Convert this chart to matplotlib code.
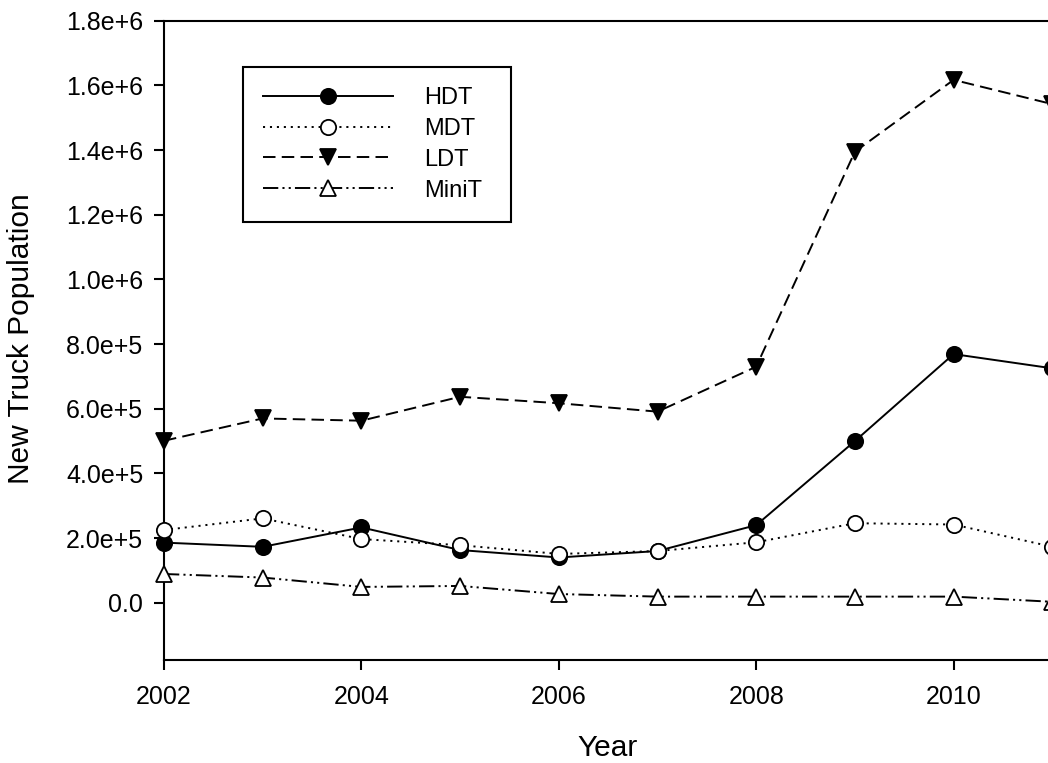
import matplotlib
matplotlib.use('Agg')
import matplotlib.pyplot as plt
from matplotlib.ticker import FuncFormatter, FixedLocator

plt.rcParams['font.family'] = ['Liberation Sans', 'DejaVu Sans']
plt.rcParams['lines.scale_dashes'] = False

years = [2002, 2003, 2004, 2005, 2006, 2007, 2008, 2009, 2010, 2011]
hdt = [1.86e5, 1.73e5, 2.33e5, 1.63e5, 1.40e5, 1.60e5, 2.40e5, 5.00e5, 7.69e5, 7.25e5]
mdt = [2.25e5, 2.61e5, 1.97e5, 1.78e5, 1.51e5, 1.60e5, 1.87e5, 2.46e5, 2.42e5, 1.73e5]
ldt = [5.01e5, 5.70e5, 5.63e5, 6.37e5, 6.17e5, 5.91e5, 7.30e5, 1.395e6, 1.617e6, 1.542e6]
minit = [8.9e4, 7.8e4, 4.9e4, 5.2e4, 2.7e4, 1.9e4, 1.9e4, 1.9e4, 1.9e4, 3e3]
xticks = [2002, 2004, 2006, 2008, 2010]

fig = plt.figure(figsize=(10.48, 7.63), dpi=100)
# the axes run past the right edge of the picture, like the cropped original
ax = fig.add_axes([164/1048, 1-660/763, 987/1048, (660-20.7)/763])

common = dict(color='black', lw=1.4, ms=11, mew=1.3, clip_on=False, zorder=3)
ax.plot(years, hdt, '-', marker='o', mfc='black', label='HDT', **common)
ax.plot(years, mdt, marker='o', mfc='white', dashes=(1.5, 3.5), label='MDT', **common)
ax.plot(years, ldt, marker='v', mfc='black', dashes=(9, 4.5), label='LDT', **common)
ax.plot(years, minit, marker='^', mfc='white', dashes=(11, 3, 1.5, 3, 1.5, 3),
        label='MiniT', **common)

ax.set_xlim(2002, 2012)
ax.set_ylim(-1.77e5, 1.8e6)
ax.xaxis.set_major_locator(FixedLocator(xticks))
ax.set_yticks([i * 2e5 for i in range(10)])


def sci(v, pos):
    if abs(v) < 1:
        return '0.0'
    s = '%.1e' % v
    m, e = s.split('e')
    return m + 'e' + e[0] + str(int(e[1:]))


ax.yaxis.set_major_formatter(FuncFormatter(sci))
ax.tick_params(direction='out', length=7, width=1.5, labelsize=18, color='black')
ax.tick_params(axis='y', pad=8)
ax.tick_params(axis='x', pad=11)
ax.tick_params(top=False, right=False)

for side in ['left', 'bottom', 'top']:
    ax.spines[side].set_linewidth(1.5)
ax.spines['right'].set_visible(False)

ax.set_xlabel('Year', fontsize=21.5)
ax.set_ylabel('New Truck Population', fontsize=21.5)
ax.xaxis.set_label_coords(0.4498, -0.115)
ax.yaxis.set_label_coords(-0.1307, 0.502)

leg = ax.legend(loc='upper left', bbox_to_anchor=(0.0797, 0.6836, 0.2715, 0.2444),
                mode='expand', borderaxespad=0, fontsize=17, numpoints=1,
                handlelength=5.5, handletextpad=1.35, borderpad=0.85,
                labelspacing=0.38, fancybox=False, framealpha=1)
leg.get_frame().set_edgecolor('black')
leg.get_frame().set_linewidth(1.5)

fig.savefig('out.png', dpi=100)
